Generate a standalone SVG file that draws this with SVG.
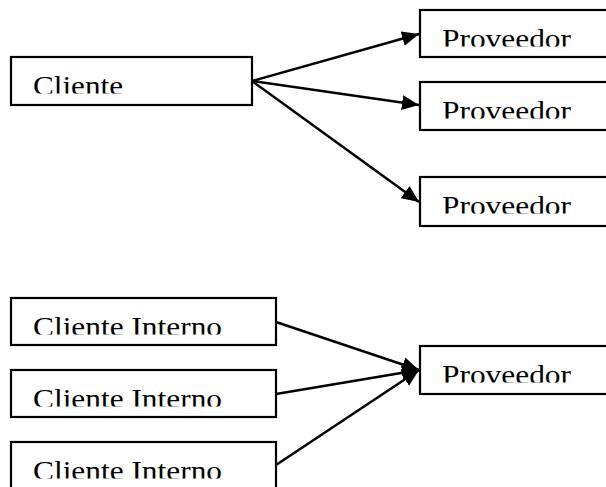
<svg xmlns="http://www.w3.org/2000/svg" width="606" height="487" viewBox="0 0 606 487">
<style>
.box{fill:#fff;stroke:#000;stroke-width:2.2}
.lbl{font-family:"Liberation Serif","Times New Roman",serif;font-size:28px;fill:#000}
.edge{stroke:#000;stroke-width:2.5;fill:none;marker-end:url(#ah)}
</style>
<defs>
<marker id="ah" markerUnits="userSpaceOnUse" markerWidth="19" markerHeight="16" refX="17" refY="7.5" orient="auto" viewBox="0 0 19 15">
<path d="M0,0 L17,7.5 L0,15 z" fill="#000"/>
</marker>
<clipPath id="c1"><rect x="0" y="0" width="606" height="93.5"/></clipPath>
<clipPath id="c2"><rect x="0" y="0" width="606" height="46.5"/></clipPath>
<clipPath id="c3"><rect x="0" y="0" width="606" height="118.5"/></clipPath>
<clipPath id="c4"><rect x="0" y="0" width="606" height="213.5"/></clipPath>
<clipPath id="c5"><rect x="0" y="0" width="606" height="334.5"/></clipPath>
<clipPath id="c6"><rect x="0" y="0" width="606" height="406.5"/></clipPath>
<clipPath id="c7"><rect x="0" y="0" width="606" height="478.5"/></clipPath>
<clipPath id="c8"><rect x="0" y="0" width="606" height="382.5"/></clipPath>
</defs>
<g id="connectors">
<line class="edge" x1="252" y1="81" x2="419" y2="34"/>
<line class="edge" x1="252" y1="81" x2="419" y2="105"/>
<line class="edge" x1="252" y1="81" x2="419" y2="202"/>
<line class="edge" x1="276" y1="322" x2="419" y2="370"/>
<line class="edge" x1="276" y1="394" x2="419" y2="370"/>
<line class="edge" x1="276" y1="465" x2="419" y2="370"/>
</g>
<g id="cliente">
<rect class="box" x="11" y="57" width="241" height="48"/>
<text class="lbl" x="33" y="95" textLength="90" lengthAdjust="spacingAndGlyphs" clip-path="url(#c1)">Cliente</text>
</g>
<g id="proveedor1">
<rect class="box" x="420" y="10" width="200" height="47"/>
<text class="lbl" x="442" y="48" textLength="129" lengthAdjust="spacingAndGlyphs" clip-path="url(#c2)">Proveedor</text>
</g>
<g id="proveedor2">
<rect class="box" x="420" y="82" width="200" height="48"/>
<text class="lbl" x="442" y="120" textLength="129" lengthAdjust="spacingAndGlyphs" clip-path="url(#c3)">Proveedor</text>
</g>
<g id="proveedor3">
<rect class="box" x="420" y="177" width="200" height="49"/>
<text class="lbl" x="442" y="215" textLength="129" lengthAdjust="spacingAndGlyphs" clip-path="url(#c4)">Proveedor</text>
</g>
<g id="clienteInterno1">
<rect class="box" x="11" y="298" width="265" height="47"/>
<text class="lbl" x="33" y="336" textLength="189" lengthAdjust="spacingAndGlyphs" clip-path="url(#c5)">Cliente Interno</text>
</g>
<g id="clienteInterno2">
<rect class="box" x="11" y="370" width="265" height="47"/>
<text class="lbl" x="33" y="408" textLength="189" lengthAdjust="spacingAndGlyphs" clip-path="url(#c6)">Cliente Interno</text>
</g>
<g id="clienteInterno3">
<rect class="box" x="11" y="442" width="265" height="60"/>
<text class="lbl" x="33" y="480" textLength="189" lengthAdjust="spacingAndGlyphs" clip-path="url(#c7)">Cliente Interno</text>
</g>
<g id="proveedor4">
<rect class="box" x="420" y="346" width="200" height="48"/>
<text class="lbl" x="442" y="384" textLength="129" lengthAdjust="spacingAndGlyphs" clip-path="url(#c8)">Proveedor</text>
</g>
</svg>
